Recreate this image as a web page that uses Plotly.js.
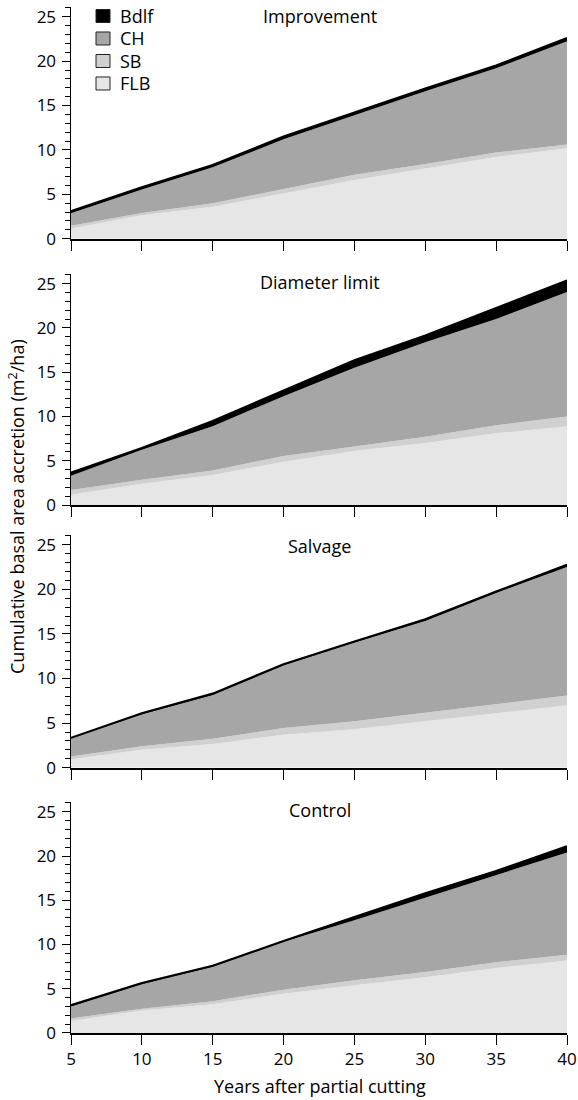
<!DOCTYPE html>
<html>
<head>
<meta charset="utf-8">
<script src="https://cdn.plot.ly/plotly-3.0.1.min.js"></script>
<style>html,body{margin:0;padding:0;background:#fff;}#chart{width:578px;height:1100px;}</style>
</head>
<body>
<div id="chart"></div>
<script>
// Years after partial cutting
var years = [5, 10, 15, 20, 25, 30, 35, 40];
var panelNames = ["Improvement", "Diameter limit", "Salvage", "Control"];
var speciesNames = ["Bdlf", "CH", "SB", "FLB"];
var yTickVals = [0, 5, 10, 15, 20, 25];

// Cumulative basal area accretion (m2/ha) per species group, per treatment
var improvementFLB  = [1.15, 2.65, 3.6, 5.1, 6.6, 7.9, 9.2, 10.2];
var improvementSB   = [0.3, 0.25, 0.4, 0.5, 0.6, 0.5, 0.5, 0.4];
var improvementCH   = [1.4, 2.65, 4.05, 5.6, 6.7, 8.2, 9.5, 11.65];
var improvementBdlf = [0.25, 0.25, 0.25, 0.3, 0.3, 0.3, 0.3, 0.35];

var diameterFLB  = [1.15, 2.4, 3.4, 4.9, 6.1, 7.0, 8.1, 8.9];
var diameterSB   = [0.55, 0.45, 0.5, 0.65, 0.5, 0.7, 0.9, 1.1];
var diameterCH   = [1.6, 3.4, 5.0, 6.75, 8.9, 10.7, 12.0, 14.05];
var diameterBdlf = [0.35, 0.2, 0.6, 0.65, 0.85, 0.75, 1.25, 1.3];

var salvageFLB  = [0.95, 2.0, 2.65, 3.7, 4.3, 5.2, 6.15, 7.0];
var salvageSB   = [0.3, 0.4, 0.6, 0.75, 0.9, 0.95, 0.95, 1.1];
var salvageCH   = [2.05, 3.6, 4.9, 7.05, 8.85, 10.3, 12.5, 14.4];
var salvageBdlf = [0.05, 0.1, 0.15, 0.1, 0.1, 0.2, 0.15, 0.25];

var controlFLB  = [1.35, 2.55, 3.25, 4.45, 5.4, 6.3, 7.35, 8.2];
var controlSB   = [0.3, 0.2, 0.35, 0.45, 0.55, 0.6, 0.65, 0.65];
var controlCH   = [1.35, 2.75, 3.9, 5.4, 6.8, 8.4, 9.8, 11.55];
var controlBdlf = [0.15, 0.15, 0.1, 0.1, 0.35, 0.5, 0.5, 0.7];

var panels = [
  {FLB: improvementFLB, SB: improvementSB, CH: improvementCH, Bdlf: improvementBdlf},
  {FLB: diameterFLB, SB: diameterSB, CH: diameterCH, Bdlf: diameterBdlf},
  {FLB: salvageFLB, SB: salvageSB, CH: salvageCH, Bdlf: salvageBdlf},
  {FLB: controlFLB, SB: controlSB, CH: controlCH, Bdlf: controlBdlf}
];

var colors = {FLB: "#e6e6e6", SB: "#d0d0d0", CH: "#a6a6a6", Bdlf: "#000000"};
var FONT = "Open Sans, Noto Sans, sans-serif";

var traces = [];
var order = ["FLB", "SB", "CH", "Bdlf"];
panels.forEach(function (p, i) {
  var ax = i === 0 ? "" : String(i + 1);
  order.forEach(function (s) {
    traces.push({
      type: "scatter", mode: "lines", x: years, y: p[s],
      xaxis: "x" + ax, yaxis: "y" + ax,
      stackgroup: "g" + i, fillcolor: colors[s],
      line: {width: s === "Bdlf" ? 2.2 : 0, color: s === "Bdlf" ? "#000" : colors[s], shape: "linear"},
      showlegend: false, hoverinfo: "skip", name: s
    });
  });
});

var domains = [[0.7742, 1.0], [0.5146, 0.7398], [0.2586, 0.4854], [0.0, 0.2251]];
var layout = {
  width: 578, height: 1100,
  margin: {l: 71, r: 11, t: 7, b: 67},
  paper_bgcolor: "#fff", plot_bgcolor: "#fff",
  font: {family: FONT, size: 17, color: "#000"},
  showlegend: false,
  annotations: [], shapes: []
};
for (var i = 0; i < 4; i++) {
  var ax = i === 0 ? "" : String(i + 1);
  layout["xaxis" + ax] = {
    domain: [0, 1], range: [5, 40], anchor: "y" + ax,
    tickvals: years, ticktext: years.map(String),
    ticks: "outside", ticklen: 10, tickwidth: 1, tickcolor: "#000",
    showticklabels: i === 3, showline: true, linewidth: 2, linecolor: "#000",
    showgrid: false, zeroline: false, fixedrange: true,
    tickfont: {family: FONT, size: 17, color: "#000"}
  };
  layout["yaxis" + ax] = {
    domain: domains[i], range: [0, 26.1], anchor: "x" + ax,
    tickvals: yTickVals,
    ticks: "outside", ticklen: 8, tickwidth: 1, tickcolor: "#000",
    ticklabelstandoff: 2,
    minor: {dtick: 1, tick0: 0, ticks: "outside", ticklen: 5, tickwidth: 1, tickcolor: "#000", showgrid: false},
    showline: true, linewidth: 1.5, linecolor: "#000",
    showgrid: false, zeroline: false, fixedrange: true,
    tickfont: {family: FONT, size: 17, color: "#000"}
  };
}
var titleY = [0.991, 0.7323, 0.4747, 0.2173];
panelNames.forEach(function (n, i) {
  layout.annotations.push({text: n, xref: "paper", yref: "paper", x: 0.502, y: titleY[i],
    xanchor: "center", yanchor: "middle", showarrow: false, font: {family: FONT, size: 18, color: "#000"}});
});
layout.annotations.push({text: "Cumulative basal area accretion (m<sup>2</sup>/ha)", xref: "paper", yref: "paper",
  x: -0.109, y: 0.5136, xanchor: "center", yanchor: "middle", textangle: -90, showarrow: false,
  font: {family: FONT, size: 18, color: "#000"}});
layout.annotations.push({text: "Years after partial cutting", xref: "paper", yref: "paper",
  x: 0.502, y: -0.0517, xanchor: "center", yanchor: "middle", showarrow: false,
  font: {family: FONT, size: 18, color: "#000"}});

// Key (legend) in the top panel, placed in that panel's domain coordinates
var keyX0 = 25 / 496, keyX1 = 39 / 496, keyTextX = 47 / 496;
var keyRowsPx = [9, 31.5, 54, 76.5]; // from top of panel 1 plot area
speciesNames.forEach(function (s, k) {
  var cy = 1 - keyRowsPx[k] / 231.7;
  var h = 6.5 / 231.7;
  layout.shapes.push({type: "rect", xref: "x domain", yref: "y domain",
    x0: keyX0, x1: keyX1, y0: cy - h, y1: cy + h,
    fillcolor: colors[s], line: {color: "#222", width: 1}});
  layout.annotations.push({text: s, xref: "x domain", yref: "y domain", x: keyTextX, y: cy,
    xanchor: "left", yanchor: "middle", showarrow: false, font: {family: FONT, size: 18, color: "#000"}});
});

Plotly.newPlot("chart", traces, layout, {staticPlot: true, displayModeBar: false});
</script>
</body>
</html>
